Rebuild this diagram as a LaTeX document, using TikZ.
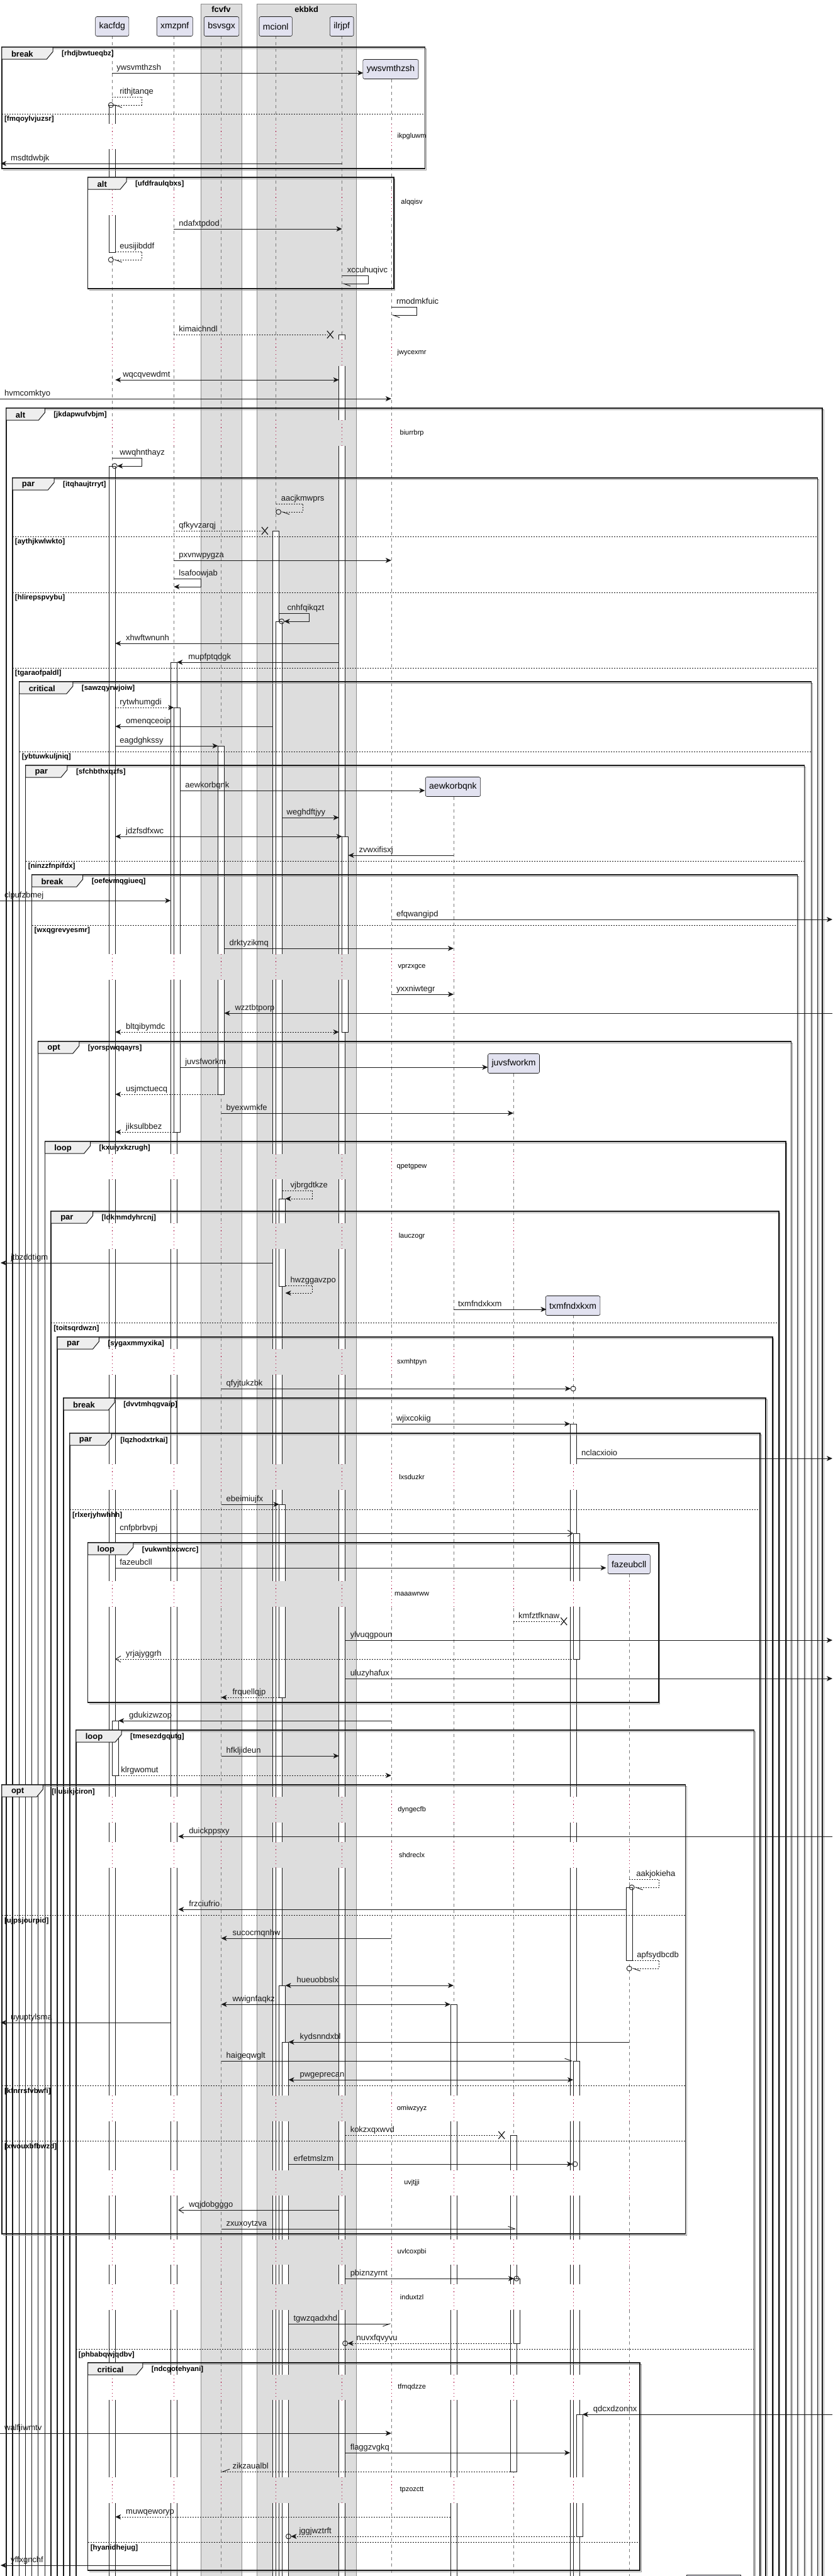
\documentclass[tikz,border=0pt]{standalone}
\usepackage{fontspec}
\setmainfont{Liberation Sans}
\usetikzlibrary{arrows.meta}
\definecolor{partfill}{HTML}{E2E2F0}
\definecolor{partline}{HTML}{181818}
\definecolor{boxgray}{HTML}{DDDDDD}
\definecolor{boxline}{HTML}{8A8A8A}
\definecolor{lifec}{HTML}{7A7A7A}
\definecolor{delayc}{HTML}{A80036}
\definecolor{tabfill}{HTML}{EEEEEE}
\definecolor{shadowc}{HTML}{9A9A9A}
\newcounter{lc}
\newcommand\fs[1]{\fontsize{#1}{#1}\selectfont}
\newcommand\msgx[6]{\draw[#1] (#2,#4) -- (#3,#4); \stepcounter{lc}\node[msglbl] (t\arabic{lc}) at (#5,#4-5) {#6};}
\newcommand\selfx[8]{\draw[#1] (#2,#5) -- (#4,#5) -- (#4,#6) -- (#3,#6); \stepcounter{lc}\node[msglbl] (t\arabic{lc}) at (#7,#5-5) {#8};}
\newcommand\ringend[2]{\draw[partline, line width=0.9pt] (#1,#2) circle (4pt);}
\newcommand\lostx[2]{\draw[partline, line width=1.2pt] (#1-5,#2-6) -- (#1+5,#2+6) (#1-5,#2+6) -- (#1+5,#2-6);}
\newcommand\actbar[3]{\draw[actb] (#1,#2) rectangle (#1+10,#3);}
\newcommand\frag[7]{%
  \draw[fragshadow] (#1+2,#2+2) -- (#3+2,#2+2) -- (#3+2,#4+2) -- (#1+2,#4+2);
  \draw[fragbox] (#1,#2) rectangle (#3,#4);
  \draw[fragtab] (#1,#2) -- (#1+#5,#2) -- (#1+#5,#2+7) -- (#1+#5-10,#2+19) -- (#1,#2+19) -- cycle;
  \stepcounter{lc}\node[fragkw, anchor=west] (k\arabic{lc}) at (#1+15,#2+11) {#6};
  \node[fragguard, anchor=west] (g\arabic{lc}) at (#1+#5+14,#2+11) {#7};}
\newcommand\elsesep[4]{\draw[sepln] (#1,#3) -- (#2,#3); \stepcounter{lc}\node[fragguard, anchor=west] (s\arabic{lc}) at (#1+4,#3+9) {#4};}
\newcommand\dly[3]{%
  \foreach \lx/\cy/\bg in {180/57/white,279/57/white,355/57/boxgray,443/57/boxgray,549/57/boxgray,628/126/white,728/1267/white,824/1707/white,920/2091/white,1010/2503/white}{%
    \ifnum\cy<#1\relax
      \fill[fill=\bg] (\lx-7,#1) rectangle (\lx+22,#2);
      \draw[dotln] (\lx,#1) -- (\lx,#2);
    \fi
  }%
  \stepcounter{lc}\node[delaytxt] (d\arabic{lc}) at (661,{(#1+#2)/2}) {#3};}

\begin{document}
\begin{tikzpicture}[x=0.9903pt,y=-1pt,
  >={Stealth[length=9pt,width=8pt,inset=2.5pt]},
  msgline/.style={draw=partline,line width=0.9pt},
  msgdash/.style={msgline,dash pattern=on 2pt off 2pt},
  tipfill/.style={->},
  tipboth/.style={<->},
  tipopen/.style={-{Straight Barb[length=8pt,width=10pt]}},
  tipharp/.style={-{Straight Barb[harpoon,length=11pt,width=8pt]}},
  tipharps/.style={-{Straight Barb[harpoon,swap,length=11pt,width=8pt]}},
  msglbl/.style={font=\fs{13}, inner sep=0pt, anchor=base west, text=partline},
  partbox/.style={draw=partline, fill=partfill, line width=0.6pt, rounded corners=2.5pt, inner xsep=6pt, inner ysep=0pt, minimum height=31pt, font=\fs{14}},
  lifeln/.style={draw=lifec, line width=0.6pt, dash pattern=on 5pt off 5pt},
  dotln/.style={draw=delayc, line width=0.8pt, dash pattern=on 1.2pt off 4.5pt},
  actb/.style={draw=partline, fill=white, line width=0.6pt},
  fragbox/.style={draw=partline, line width=1.5pt},
  fragshadow/.style={draw=shadowc, line width=1pt},
  fragtab/.style={draw=partline, fill=tabfill, line width=1pt},
  fragkw/.style={font=\bfseries\fs{13}, inner sep=0pt},
  fragguard/.style={font=\bfseries\fs{11.5}, inner sep=0pt},
  sepln/.style={draw=partline, line width=1pt, dash pattern=on 2pt off 2pt},
  delaytxt/.style={font=\fs{11}, inner sep=0pt},
]
\useasboundingbox (0,0) rectangle (1336,4096);
\clip (0,0) rectangle (1336,4096);
\fill[white] (0,0) rectangle (1336,4096);
% boxes
\filldraw[fill=boxgray, draw=boxline, line width=0.6pt] (322,6) rectangle (388,4120);
\filldraw[fill=boxgray, draw=boxline, line width=0.6pt] (412,6) rectangle (572,4120);
\node[fragkw] (fcvfv) at (355,15) {fcvfv};
\node[fragkw] (ekbkd) at (492,15) {ekbkd};
% lifelines
\foreach \lx/\ys in {180/57,279/57,355/57,443/57,549/57,628/126,728/1267,824/1707,920/2091,1010/2503}
  \draw[lifeln] (\lx,\ys) -- (\lx,4120);
% activation bars
\actbar{175}{167}{401}
\actbar{175}{741}{4120}
\actbar{180}{2736}{2823}
\actbar{274}{1053}{4120}
\actbar{279}{1125}{1800}
\actbar{350}{1186}{1740}
\actbar{438}{844}{4120}
\actbar{443}{988}{4120}
\actbar{448}{1906}{2045}
\actbar{448}{2392}{2699}
\actbar{448}{3157}{4120}
\actbar{453}{3247}{4120}
\actbar{544}{532}{4120}
\actbar{549}{1330}{1641}
\actbar{723}{3187}{4120}
\actbar{819}{3395}{3930}
\actbar{824}{3623}{3726}
\actbar{915}{2264}{4120}
\actbar{920}{2438}{2638}
\actbar{920}{3277}{4120}
\actbar{925}{3839}{4033}
\actbar{1005}{3001}{3117}
% delays
\dly{197}{237}{ikpgluwm}
\dly{302}{342}{alqqisv}
\dly{540}{582}{jwycexmr}
\dly{668}{709}{biurrbrp}
\dly{1517}{1558}{vprzxgce}
\dly{1835}{1875}{qpetgpew}
\dly{1945}{1986}{lauczogr}
\dly{2145}{2186}{sxmhtpyn}
\dly{2328}{2369}{lxsduzkr}
\dly{2514}{2555}{maaawrww}
\dly{2857}{2898}{dyngecfb}
\dly{2929}{2970}{shdreclx}
\dly{3332}{3373}{omiwzyyz}
\dly{3451}{3491}{uvjtjji}
\dly{3561}{3601}{uvlcoxpbi}
\dly{3632}{3673}{induxtzl}
\dly{3776}{3816}{tfmqdzze}
\dly{3939}{3980}{tpzozctt}
% frames
\frag{3}{75}{682}{268}{82}{break}{[rhdjbwtueqbz]}
\elsesep{3}{682}{181}{[fmqoylvjuzsr]}
\frag{141}{282}{632}{459}{62}{alt}{[ufdfraulqbxs]}
\frag{10}{649}{1320}{4120}{62}{alt}{[jkdapwufvbjm]}
\frag{20}{760}{1312}{4120}{67}{par}{[itqhaujtrryt]}
\elsesep{20}{1312}{853}{[aythjkwlwkto]}
\elsesep{20}{1312}{942}{[hlirepspvybu]}
\elsesep{20}{1312}{1062}{[tgaraofpaldl]}
\frag{31}{1084}{1302}{4120}{86}{critical}{[sawzqyrwjoiw]}
\elsesep{31}{1302}{1195}{[ybtuwkuljniq]}
\frag{41}{1217}{1291}{4120}{67}{par}{[sfchbthxqzfs]}
\elsesep{41}{1291}{1369}{[ninzzfnpifdx]}
\frag{51}{1391}{1280}{4120}{82}{break}{[oefevmqgiueq]}
\elsesep{51}{1280}{1471}{[wxqgrevyesmr]}
\frag{61}{1656}{1270}{4120}{66}{opt}{[yorspwqqayrs]}
\frag{72}{1815}{1261}{4120}{73}{loop}{[kxuiyxkzrugh]}
\frag{82}{1926}{1250}{4120}{67}{par}{[ldkmmdyhrcnj]}
\elsesep{82}{1250}{2103}{[toitsqrdwzn]}
\frag{92}{2126}{1240}{4120}{67}{par}{[sygaxmmyxika]}
\frag{102}{2223}{1229}{4120}{82}{break}{[dvvtmhqgvaip]}
\frag{112}{2279}{1220}{4120}{67}{par}{[lqzhodxtrkai]}
\elsesep{112}{1220}{2400}{[rlxerjyhwhhh]}
\frag{141}{2453}{1057}{2707}{73}{loop}{[vukwnbxcwcrc]}
\frag{122}{2751}{1210}{4120}{73}{loop}{[tmesezdgqutg]}
\elsesep{122}{1210}{3735}{[phbabqwjqdbv]}
\frag{3}{2838}{1100}{3552}{66}{opt}{[llusikjciron]}
\elsesep{3}{1100}{3045}{[ujpsjourpid]}
\elsesep{3}{1100}{3316}{[kfnrrsfvbwfi]}
\elsesep{3}{1100}{3404}{[xwouxbfbwzd]}
\frag{141}{3757}{1027}{4087}{88}{critical}{[ndcgotehyani]}
\elsesep{141}{1027}{4042}{[hyanidhejug]}
% participants
\node[partbox] (kacfdg) at (180,42) {kacfdg};
\node[partbox] (xmzpnf) at (280.5,42) {xmzpnf};
\node[partbox] (bsvsgx) at (355.5,42) {bsvsgx};
\node[partbox] (mcionl) at (442.5,42) {mcionl};
\node[partbox] (ilrjpf) at (548.5,42) {ilrjpf};
\node[partbox] (ywsvmthzsh) at (627,110) {ywsvmthzsh};
\node[partbox] (aewkorbqnk) at (727,1251) {aewkorbqnk};
\node[partbox] (juvsfworkm) at (824.5,1691) {juvsfworkm};
\node[partbox] (txmfndxkxm) at (919.5,2076) {txmfndxkxm};
\node[partbox] (fazeubcll) at (1009.5,2487) {fazeubcll};
\draw[partline, fill=partfill, line width=0.6pt] (1102,4094) rectangle (1189,4120);
% messages
\msgx{msgline,tipfill}{180}{583}{116}{187}{ywsvmthzsh}
\selfx{msgdash,tipharp}{180}{182}{228}{154}{167}{192}{rithjtanqe}\ringend{178}{167}
\msgx{msgline,tipfill}{549}{1}{260}{17}{msdtdwbjk}
\msgx{msgline,tipfill}{279}{549}{364}{287}{ndafxtpdod}
\selfx{msgdash,tipharp}{185}{182}{228}{400}{413}{192}{eusijibddf}\ringend{178}{413}
\selfx{msgline,tipharp}{549}{549}{591}{438}{451}{557}{xccuhuqivc}
\selfx{msgline,tipharp}{628}{628}{669}{488}{501}{636}{rmodmkfuic}
\msgx{msgdash}{279}{526}{532}{287}{kimaichndl}\lostx{530}{532}
\msgx{msgline,tipboth}{185}{544}{604}{197}{wqcqvewdmt}
\msgx{msgline,tipfill}{0}{628}{634}{7}{hvmcomktyo}
\selfx{msgline,tipfill}{180}{188}{228}{728}{741}{192}{wwqhnthayz}\ringend{184}{741}
\selfx{msgdash,tipharp}{443}{451}{486}{801}{814}{451}{aacjkmwprs}\ringend{447}{814}
\msgx{msgdash}{279}{421}{844}{287}{qfkyvzarqj}\lostx{425}{844}
\msgx{msgline,tipfill}{279}{628}{891}{287}{pxvnwpygza}
\selfx{msgline,tipfill}{279}{279}{323}{920}{933}{287}{lsafoowjab}
\selfx{msgline,tipfill}{448}{456}{496}{975}{988}{461}{cnhfqikqzt}\ringend{452}{988}
\msgx{msgline,tipfill}{544}{185}{1023}{202}{xhwftwnunh}
\msgx{msgline,tipfill}{544}{284}{1053}{302}{mupfptqdgk}
\msgx{msgdash,tipfill}{185}{279}{1125}{192}{rytwhumgdi}
\msgx{msgline,tipfill}{438}{185}{1155}{202}{omenqceoip}
\msgx{msgline,tipfill}{185}{350}{1186}{192}{eagdghkssy}
\msgx{msgline,tipfill}{289}{682}{1257}{297}{aewkorbqnk}
\msgx{msgline,tipfill}{453}{544}{1300}{460}{weghdftjyy}
\msgx{msgline,tipboth}{185}{549}{1330}{202}{jdzfsdfxwc}
\msgx{msgline,tipfill}{728}{559}{1360}{576}{zvwxifisxj}
\msgx{msgline,tipfill}{0}{274}{1432}{7}{clpufzbmej}
\msgx{msgline,tipfill}{628}{1336}{1462}{636}{efqwangipd}
\msgx{msgline,tipfill}{360}{728}{1508}{368}{drktyzikmq}
\msgx{msgline,tipfill}{628}{728}{1581}{636}{yxxniwtegr}
\msgx{msgline,tipfill}{1336}{360}{1611}{377}{wzztbtporp}
\msgx{msgdash,tipboth}{185}{544}{1641}{202}{bltqibymdc}
\msgx{msgline,tipfill}{289}{783}{1697}{297}{juvsfworkm}
\msgx{msgdash,tipfill}{350}{185}{1740}{202}{usjmctuecq}
\msgx{msgline,tipfill}{355}{824}{1770}{363}{byexwmkfe}
\msgx{msgdash,tipfill}{279}{185}{1800}{202}{jiksulbbez}
\selfx{msgdash,tipfill}{453}{458}{501}{1893}{1906}{466}{vjbrgdtkze}
\msgx{msgline,tipfill}{438}{1}{2008}{17}{jtbzddtigm}
\selfx{msgdash,tipfill}{458}{458}{501}{2044}{2056}{466}{hwzggavzpo}
\msgx{msgline,tipfill}{728}{877}{2082}{735}{txmfndxkxm}
\msgx{msgline,tipfill}{355}{916}{2208}{363}{qfyjtukzbk}\ringend{920}{2208}
\msgx{msgline,tipfill}{628}{915}{2264}{636}{wjixcokiig}
\msgx{msgline,tipfill}{925}{1336}{2319}{933}{nclacxioio}
\msgx{msgline,tipfill}{355}{448}{2392}{363}{ebeimiujfx}
\msgx{msgline,tipopen}{185}{920}{2438}{192}{cnfpbrbvpj}
\msgx{msgline,tipfill}{185}{973}{2493}{192}{fazeubcll}
\msgx{msgdash}{824}{901}{2578}{832}{kmfztfknaw}\lostx{905}{2578}
\msgx{msgline,tipfill}{554}{1336}{2608}{562}{ylvuqgpoun}
\msgx{msgdash,tipopen}{930}{185}{2638}{202}{yrjajyggrh}
\msgx{msgline,tipfill}{554}{1336}{2669}{562}{uluzyhafux}
\msgx{msgdash,tipfill}{448}{355}{2699}{373}{frquellqjp}
\msgx{msgline,tipfill}{628}{190}{2736}{207}{gdukizwzop}
\msgx{msgline,tipfill}{355}{544}{2792}{363}{hfkljideun}
\msgx{msgdash,tipfill}{190}{628}{2823}{194}{klrgwomut}
\msgx{msgline,tipfill}{1336}{286}{2920}{303}{duickppsxy}
\selfx{msgdash,tipharp}{1010}{1018}{1058}{2988}{3001}{1021}{aakjokieha}\ringend{1014}{3001}
\msgx{msgline,tipfill}{1005}{286}{3036}{303}{frzciufrio}
\msgx{msgline,tipfill}{628}{355}{3082}{373}{sucocmqnhw}
\selfx{msgdash,tipharp}{1015}{1014}{1058}{3117}{3130}{1022}{apfsydbcdb}\ringend{1010}{3130}
\msgx{msgline,tipboth}{458}{728}{3157}{476}{hueuobbslx}
\msgx{msgline,tipboth}{355}{723}{3187}{373}{wwignfaqkz}
\msgx{msgline,tipfill}{274}{1}{3216}{17}{uyuptylsma}
\msgx{msgline,tipfill}{1010}{463}{3247}{481}{kydsnndxbl}
\msgx{msgline,tipharp}{355}{920}{3277}{363}{haigeqwglt}
\msgx{msgline,tipboth}{463}{920}{3307}{481}{pwgeprecan}
\msgx{msgdash}{554}{801}{3395}{562}{kokzxqxwvd}\lostx{805}{3395}
\msgx{msgline,tipfill}{463}{919}{3441}{471}{erfetmslzm}\ringend{923}{3441}
\msgx{msgline,tipopen}{544}{286}{3514}{303}{wqjdobgggo}
\msgx{msgline,tipharp}{355}{829}{3544}{363}{zxuxoytzva}
\msgx{msgline,tipfill}{554}{825}{3623}{562}{pbiznzyrnt}\ringend{829}{3623}
\msgx{msgline,tipharps}{463}{628}{3695}{471}{tgwzqadxhd}
\msgx{msgdash,tipfill}{834}{558}{3726}{572}{nuvxfqvyvu}\ringend{554}{3726}
\msgx{msgline,tipfill}{1336}{935}{3839}{952}{qdcxdzonnx}
\msgx{msgline,tipfill}{0}{628}{3869}{7}{walfjiwmtv}
\msgx{msgline,tipfill}{554}{915}{3900}{562}{flaggzvgkq}
\msgx{msgdash,tipharps}{819}{355}{3930}{373}{zikzaualbl}
\msgx{msgdash,tipfill}{723}{185}{4002}{202}{muwqeworyp}
\msgx{msgdash,tipfill}{935}{467}{4033}{480}{jggjwztrft}\ringend{463}{4033}
\msgx{msgline,tipfill}{274}{1}{4079}{17}{yffxgnchf}
\end{tikzpicture}
\end{document}
